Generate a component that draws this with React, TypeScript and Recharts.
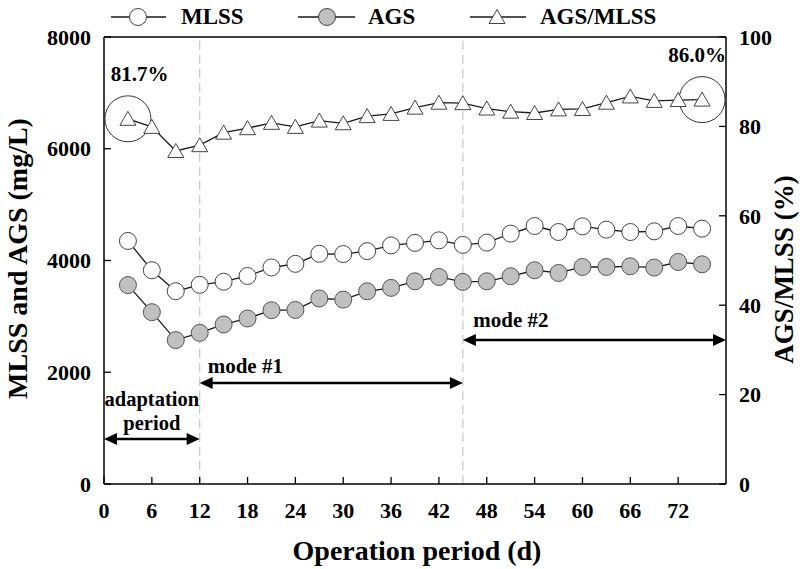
import React from 'react';
import {
  ComposedChart, Line, XAxis, YAxis, ReferenceLine, ReferenceDot, Legend,
} from 'recharts';

const DAYS = [3, 6, 9, 12, 15, 18, 21, 24, 27, 30, 33, 36, 39, 42, 45, 48, 51, 54, 57, 60, 63, 66, 69, 72, 75];
const MLSS = [4350, 3825, 3450, 3565, 3620, 3723, 3875, 3940, 4120, 4115, 4168, 4270, 4315, 4361, 4280, 4320, 4481, 4617, 4510, 4611, 4552, 4510, 4522, 4617, 4570];
const AGS = [3560, 3075, 2575, 2705, 2855, 2962, 3110, 3115, 3320, 3300, 3449, 3510, 3628, 3705, 3616, 3628, 3718, 3825, 3777, 3884, 3884, 3896, 3873, 3973, 3932];
const RATIO = [81.7, 79.9, 74.5, 75.8, 78.6, 79.6, 80.8, 79.9, 81.3, 80.7, 82.3, 82.8, 84.2, 85.3, 85.2, 84.0, 83.3, 83.0, 83.8, 83.9, 85.3, 86.7, 85.7, 85.9, 86.0];

const X_TICKS = [0, 6, 12, 18, 24, 30, 36, 42, 48, 54, 60, 66, 72];
const LEFT_TICKS = [0, 2000, 4000, 6000, 8000];
const RIGHT_TICKS = [0, 20, 40, 60, 80, 100];

const PHASE_BOUNDARIES = [12, 45];
const PERIOD_ARROWS = [
  { from: 0, to: 12, y: 805 },
  { from: 12, to: 45, y: 1808 },
  { from: 45, to: 78, y: 2577 },
];
const PERIOD_TEXTS = [
  { x: 6, y: 1395, text: 'adaptation', anchor: 'middle', size: 20.5 },
  { x: 6, y: 975, text: 'period', anchor: 'middle', size: 20.5 },
  { x: 13, y: 1992, text: 'mode #1', anchor: 'start', size: 21 },
  { x: 46.3, y: 2810, text: 'mode #2', anchor: 'start', size: 21 },
];
const RATIO_TEXTS = [
  { x: 0.85, y: 90.2, text: '81.7%', anchor: 'start', size: 21 },
  { x: 78, y: 94.5, text: '86.0%', anchor: 'end', size: 21 },
];
const HIGHLIGHTS = [
  { x: 3, y: 81.7 },
  { x: 75, y: 86.0 },
];

const FONT = "'Liberation Serif', 'Times New Roman', serif";

const data = DAYS.map((d, i) => ({ day: d, mlss: MLSS[i], ags: AGS[i], ratio: RATIO[i] }));

const XTick = (p: any) => {
  const { x, y, payload } = p;
  return (
    <g>
      <line x1={x} x2={x} y1={y} y2={y - 7} stroke="#000" strokeWidth={1.3} />
      <text x={x} y={y + 34} textAnchor="middle" fontFamily={FONT} fontWeight={700} fontSize={22} fill="#000">
        {payload.value}
      </text>
    </g>
  );
};

const LeftTick = (p: any) => {
  const { x, y, payload } = p;
  return (
    <g>
      <line x1={x} x2={x + 7} y1={y} y2={y} stroke="#000" strokeWidth={1.3} />
      <text x={x - 13} y={y} dy="0.35em" textAnchor="end" fontFamily={FONT} fontWeight={700} fontSize={22} fill="#000">
        {payload.value}
      </text>
    </g>
  );
};

const RightTick = (p: any) => {
  const { x, y, payload } = p;
  return (
    <g>
      <line x1={x} x2={x - 7} y1={y} y2={y} stroke="#000" strokeWidth={1.3} />
      <text x={x + 13} y={y} dy="0.35em" textAnchor="start" fontFamily={FONT} fontWeight={700} fontSize={22} fill="#000">
        {payload.value}
      </text>
    </g>
  );
};

const Tri = ({ cx, cy }: { cx: number; cy: number }) => (
  <polygon
    points={`${cx},${cy - 7.5} ${cx - 8},${cy + 6.5} ${cx + 8},${cy + 6.5}`}
    fill="#fff"
    stroke="#444"
    strokeWidth={1}
  />
);

const Arrow = (p: any) => {
  const { x1, y1, x2 } = p;
  const h = 13;
  const w = 6;
  return (
    <g>
      <line x1={x1 + h - 2} x2={x2 - h + 2} y1={y1} y2={y1} stroke="#000" strokeWidth={2.6} />
      <polygon points={`${x1},${y1} ${x1 + h},${y1 - w} ${x1 + h},${y1 + w}`} fill="#000" />
      <polygon points={`${x2},${y1} ${x2 - h},${y1 - w} ${x2 - h},${y1 + w}`} fill="#000" />
    </g>
  );
};

const makeText = (text: string, anchor: string, size: number) => (p: any) => (
  <text x={p.cx} y={p.cy} textAnchor={anchor as any} fontFamily={FONT} fontWeight={700} fontSize={size} fill="#000">
    {text}
  </text>
);

const LegendContent = () => {
  const ty = 24;
  const my = 17;
  return (
    <svg width={800} height={36}>
      <line x1={111} x2={166} y1={my} y2={my} stroke="#1a1a1a" strokeWidth={1.3} />
      <circle cx={138} cy={my} r={8.5} fill="#fff" stroke="#444" />
      <text x={181} y={ty} fontFamily={FONT} fontWeight={700} fontSize={23}>MLSS</text>
      <line x1={298} x2={355} y1={my} y2={my} stroke="#1a1a1a" strokeWidth={1.3} />
      <circle cx={327} cy={my} r={8.5} fill="#c0c0c0" stroke="#444" />
      <text x={368} y={ty} fontFamily={FONT} fontWeight={700} fontSize={23}>AGS</text>
      <line x1={470} x2={526} y1={my} y2={my} stroke="#1a1a1a" strokeWidth={1.3} />
      <Tri cx={497} cy={my} />
      <text x={540} y={ty} fontFamily={FONT} fontWeight={700} fontSize={23}>AGS/MLSS</text>
    </svg>
  );
};

const leftTitle = (props: any) => {
  const vb = props.viewBox;
  const cx = vb.x + 17;
  const cy = vb.y + vb.height / 2 - 2;
  return (
    <text x={cx} y={cy} transform={`rotate(-90 ${cx} ${cy})`} textAnchor="middle" dominantBaseline="central"
      fontFamily={FONT} fontWeight={700} fontSize={28} fill="#000">
      MLSS and AGS (mg/L)
    </text>
  );
};

const rightTitle = (props: any) => {
  const vb = props.viewBox;
  const cx = vb.x + 58;
  const cy = vb.y + vb.height / 2 + 9;
  return (
    <text x={cx} y={cy} transform={`rotate(-90 ${cx} ${cy})`} textAnchor="middle" dominantBaseline="central"
      fontFamily={FONT} fontWeight={700} fontSize={27} fill="#000">
      AGS/MLSS (%)
    </text>
  );
};

const xTitle = (props: any) => {
  const vb = props.viewBox;
  const cx = vb.x + vb.width / 2 + 2;
  const cy = vb.y + 76;
  return (
    <text x={cx} y={cy} textAnchor="middle" fontFamily={FONT} fontWeight={700} fontSize={28} fill="#000">
      Operation period (d)
    </text>
  );
};

export default function App() {
  return (
    <div style={{ position: 'absolute', left: 0, top: 0, width: 800, height: 569, background: '#fff' }}>
      <ComposedChart width={800} height={569} data={data} margin={{ top: 37, right: 0, bottom: 0, left: 0 }}>
        <XAxis
          dataKey="day" type="number" domain={[0, 78]} ticks={X_TICKS} interval={0}
          height={85} tickSize={0} tickMargin={0} tick={XTick}
          axisLine={{ stroke: '#000', strokeWidth: 1.5 }} tickLine={false}
          label={{ content: xTitle }}
        />
        <YAxis
          yAxisId="left" orientation="left" domain={[0, 8000]} ticks={LEFT_TICKS} interval={0}
          width={104} tickSize={0} tickMargin={0} tick={LeftTick}
          axisLine={{ stroke: '#000', strokeWidth: 1.5 }} tickLine={false}
          label={{ content: leftTitle }}
        />
        <YAxis
          yAxisId="right" orientation="right" domain={[0, 100]} ticks={RIGHT_TICKS} interval={0}
          width={74} tickSize={0} tickMargin={0} tick={RightTick}
          axisLine={{ stroke: '#000', strokeWidth: 1.5 }} tickLine={false}
          label={{ content: rightTitle }}
        />
        <Legend verticalAlign="middle" align="center" layout="horizontal"
          wrapperStyle={{ top: 0, left: 0, width: 800, height: 36 }} content={LegendContent} />
        <ReferenceLine yAxisId="left" y={8000} stroke="#000" strokeWidth={1.5} />
        {PHASE_BOUNDARIES.map((b) => (
          <ReferenceLine key={`b${b}`} yAxisId="left" x={b} stroke="#c8c8c8" strokeWidth={1.2} strokeDasharray="9 5" />
        ))}
        {PERIOD_ARROWS.map((a, i) => (
          <ReferenceLine key={`a${i}`} yAxisId="left" segment={[{ x: a.from, y: a.y }, { x: a.to, y: a.y }]} shape={Arrow} />
        ))}
        {PERIOD_TEXTS.map((t, i) => (
          <ReferenceDot key={`t${i}`} yAxisId="left" x={t.x} y={t.y} r={0} shape={makeText(t.text, t.anchor, t.size)} />
        ))}
        {RATIO_TEXTS.map((t, i) => (
          <ReferenceDot key={`r${i}`} yAxisId="right" x={t.x} y={t.y} r={0} shape={makeText(t.text, t.anchor, t.size)} />
        ))}
        <Line yAxisId="left" dataKey="mlss" type="linear" stroke="#1a1a1a" strokeWidth={1.3} isAnimationActive={false}
          activeDot={false}
          dot={(p: any) => <circle key={`m${p.index}`} cx={p.cx} cy={p.cy} r={8.5} fill="#fff" stroke="#444" strokeWidth={1} />} />
        <Line yAxisId="left" dataKey="ags" type="linear" stroke="#1a1a1a" strokeWidth={1.3} isAnimationActive={false}
          activeDot={false}
          dot={(p: any) => <circle key={`g${p.index}`} cx={p.cx} cy={p.cy} r={8.5} fill="#c0c0c0" stroke="#555" strokeWidth={1} />} />
        <Line yAxisId="right" dataKey="ratio" type="linear" stroke="#1a1a1a" strokeWidth={1.3} isAnimationActive={false}
          activeDot={false}
          dot={(p: any) => <Tri key={`r${p.index}`} cx={p.cx} cy={p.cy} />} />
        {HIGHLIGHTS.map((h, i) => (
          <ReferenceDot key={`h${i}`} yAxisId="right" x={h.x} y={h.y} r={23} fill="none" stroke="#333" strokeWidth={1} />
        ))}
      </ComposedChart>
    </div>
  );
}
